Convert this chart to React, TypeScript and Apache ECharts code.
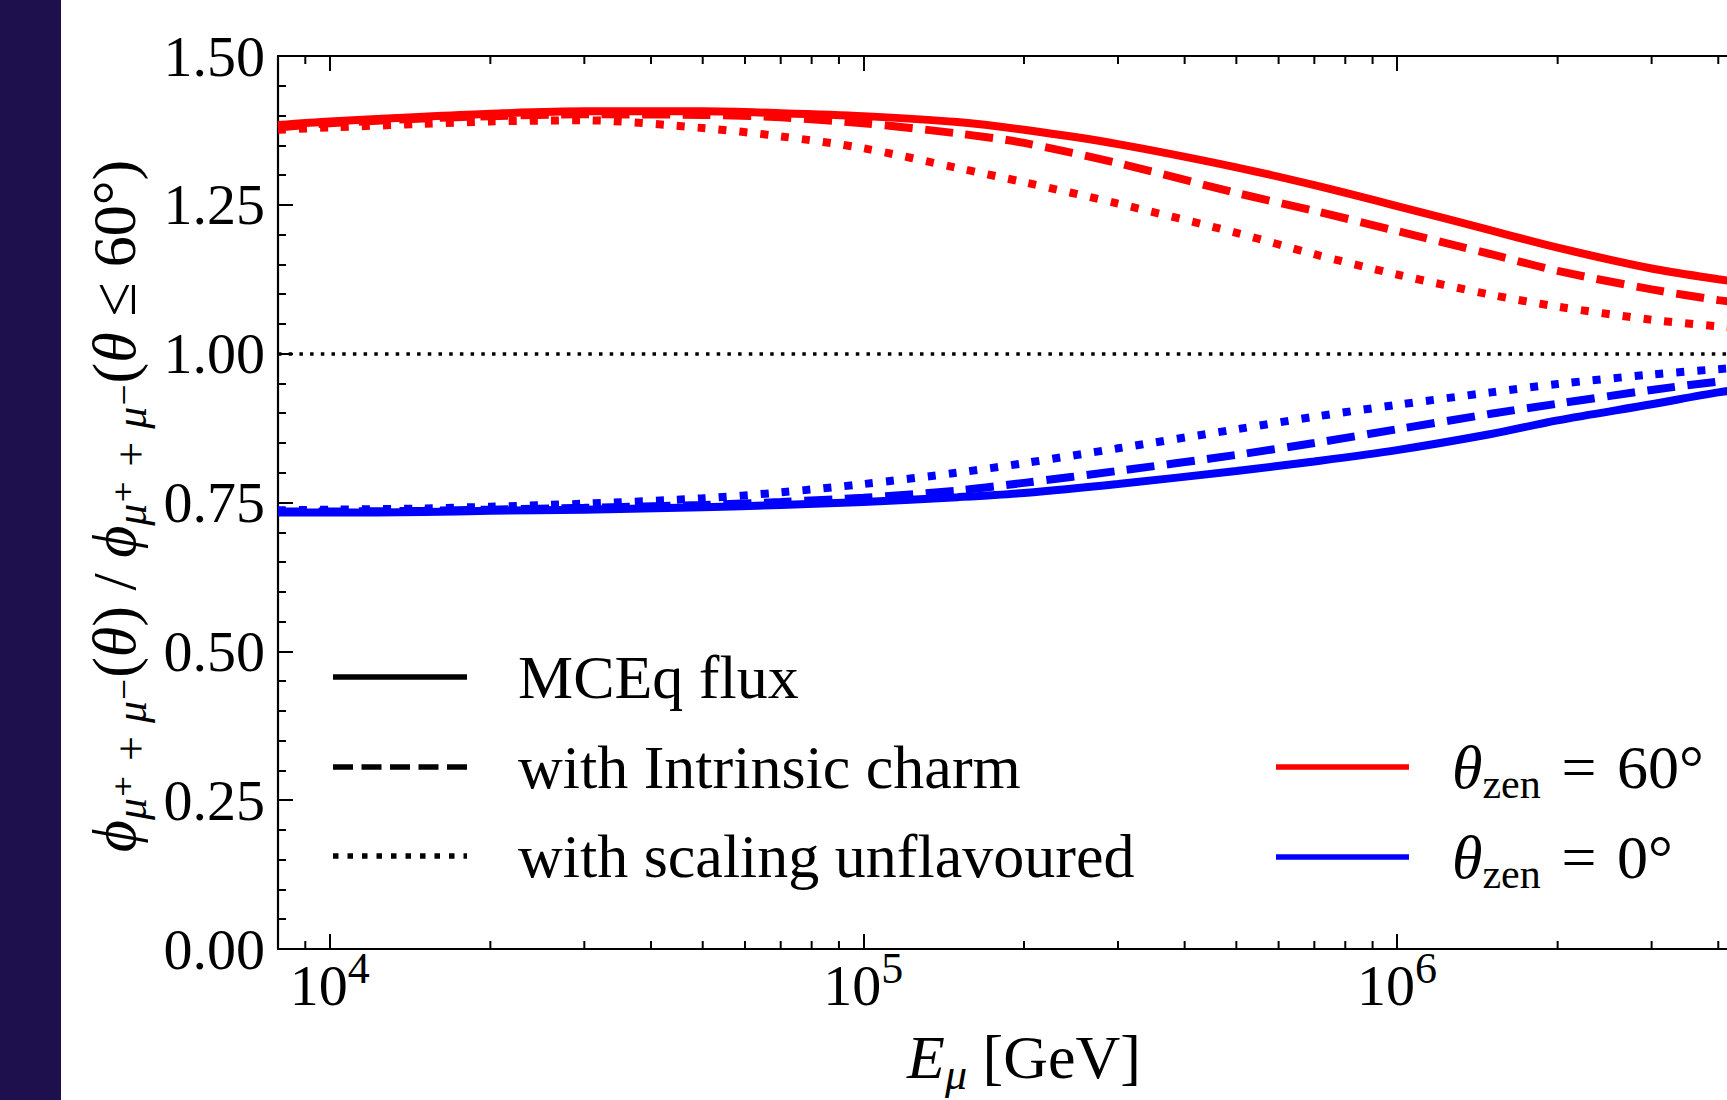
import React, { useEffect, useRef } from "react";
import * as echarts from "echarts";

// ---------- data ----------
const energiesGeV = [8e3, 1e4, 1.5e4, 2e4, 3e4, 5e4, 7e4, 1e5, 1.5e5, 2e5, 3e5, 5e5, 7e5, 1e6, 1.5e6, 2e6, 3e6, 4e6, 5e6];

const red60Mceq = [1.384, 1.390, 1.398, 1.403, 1.407, 1.407, 1.404, 1.399, 1.389, 1.376, 1.352, 1.313, 1.283, 1.248, 1.207, 1.178, 1.143, 1.125, 1.112];
const red60Charm = [1.380, 1.387, 1.395, 1.399, 1.402, 1.401, 1.397, 1.387, 1.370, 1.354, 1.320, 1.270, 1.240, 1.206, 1.167, 1.139, 1.108, 1.090, 1.080];
const red60Scaling = [1.376, 1.380, 1.386, 1.390, 1.392, 1.379, 1.365, 1.345, 1.312, 1.288, 1.252, 1.203, 1.167, 1.133, 1.099, 1.079, 1.057, 1.046, 1.040];

const blue0Mceq = [0.733, 0.733, 0.734, 0.736, 0.738, 0.742, 0.746, 0.751, 0.759, 0.766, 0.781, 0.803, 0.819, 0.838, 0.865, 0.888, 0.915, 0.935, 0.946];
const blue0Charm = [0.735, 0.735, 0.736, 0.738, 0.741, 0.746, 0.751, 0.758, 0.770, 0.783, 0.803, 0.830, 0.850, 0.873, 0.899, 0.916, 0.939, 0.953, 0.961];
const blue0Scaling = [0.737, 0.738, 0.740, 0.743, 0.748, 0.757, 0.767, 0.781, 0.800, 0.816, 0.841, 0.873, 0.894, 0.914, 0.935, 0.949, 0.965, 0.974, 0.980];

const xMinorTicks = [9e3, 2e4, 3e4, 4e4, 5e4, 6e4, 7e4, 8e4, 9e4, 2e5, 3e5, 4e5, 5e5, 6e5, 7e5, 8e5, 9e5, 2e6, 3e6, 4e6];
const yTicks = [0, 0.25, 0.5, 0.75, 1.0, 1.25, 1.5];
const referenceRatio = 1.0;

const lineStyleLabels = ["MCEq flux", "with Intrinsic charm", "with scaling unflavoured"];

// ---------- styling ----------
const FONT = '"Liberation Serif", "DejaVu Serif", serif';
const X_MIN = 8000;
const X_MAX = 5e6;
const Y_MIN = yTicks[0];
const Y_MAX = yTicks[yTicks.length - 1];
const LW = 8;
const DASHED = [28, 12.5];
const DOTTED = [8, 13];
const RED = "#ff0000";
const BLUE = "#0000ff";
const SP = "\u2004";

function makeSeries(name: string, values: number[], color: string, type: any, z: number) {
  return {
    type: "line",
    name,
    data: energiesGeV.map((e, i) => [e, values[i]]),
    showSymbol: false,
    symbol: "none",
    smooth: 0.3,
    clip: true,
    z,
    lineStyle: { color, width: LW, type, cap: "butt" },
    emphasis: { disabled: true },
  };
}

function isPow10(v: number) {
  const l = Math.log10(v);
  return Math.abs(l - Math.round(l)) < 1e-6;
}

export default function App() {
  const ref = useRef<HTMLDivElement>(null);

  useEffect(() => {
    if (!ref.current) return;
    const chart = echarts.init(ref.current, null, { renderer: "svg" });

    const series: any[] = [
      {
        ...makeSeries("red MCEq", red60Mceq, RED, "solid", 3),
        markLine: {
          silent: true,
          symbol: "none",
          label: { show: false },
          lineStyle: { color: "#000", width: 3.5, type: [3.5, 7.2] },
          data: [{ yAxis: referenceRatio }],
          z: 2,
        },
      },
      makeSeries("red charm", red60Charm, RED, DASHED, 4),
      makeSeries("red scaling", red60Scaling, RED, DOTTED, 5),
      makeSeries("blue MCEq", blue0Mceq, BLUE, "solid", 3),
      makeSeries("blue charm", blue0Charm, BLUE, DASHED, 4),
      makeSeries("blue scaling", blue0Scaling, BLUE, DOTTED, 5),
      {
        type: "custom",
        name: "minor ticks",
        silent: true,
        z: 10,
        data: xMinorTicks.map((e) => [e, Y_MIN]),
        encode: { x: 0, y: 1 },
        renderItem: (_params: any, api: any) => {
          const e = api.value(0);
          const b = api.coord([e, Y_MIN]);
          const t = api.coord([e, Y_MAX]);
          const st = { stroke: "#000", lineWidth: 2 };
          return {
            type: "group",
            children: [
              { type: "line", shape: { x1: b[0], y1: b[1], x2: b[0], y2: b[1] - 8 }, style: st },
              { type: "line", shape: { x1: t[0], y1: t[1], x2: t[0], y2: t[1] + 8 }, style: st },
            ],
          };
        },
      },
    ];

    const legendRowsLeft = [677, 767, 856];
    const legendDash: any[] = [null, [20, 8.5], [5.5, 9]];
    const graphic: any[] = [];
    lineStyleLabels.forEach((label, i) => {
      graphic.push({
        type: "line",
        shape: { x1: 333, y1: legendRowsLeft[i], x2: 467, y2: legendRowsLeft[i] },
        style: { stroke: "#000", lineWidth: 5.5, lineDash: legendDash[i] || undefined },
      });
      graphic.push({
        type: "text",
        x: 518,
        y: legendRowsLeft[i],
        style: {
          text: label,
          fontSize: 62,
          fontFamily: FONT,
          fill: "#000",
          align: "left",
          verticalAlign: "middle",
          textAlign: "left",
          textVerticalAlign: "middle",
        },
      });
    });
    const zenRows = [
      { y: 767, color: RED, deg: "60°" },
      { y: 857, color: BLUE, deg: "0°" },
    ];
    zenRows.forEach((r) => {
      graphic.push({
        type: "line",
        shape: { x1: 1276, y1: r.y, x2: 1409, y2: r.y },
        style: { stroke: r.color, lineWidth: 5.5 },
      });
      graphic.push({
        type: "text",
        x: 1452,
        y: r.y,
        style: {
          text: `{i|θ}{s|zen}{m|${SP}=${SP}${r.deg}}`,
          fill: "#000",
          align: "left",
          verticalAlign: "middle",
          textAlign: "left",
          textVerticalAlign: "middle",
          rich: {
            i: { fontSize: 62, fontFamily: FONT, fontStyle: "italic", lineHeight: 64, height: 64 },
            s: { fontSize: 42, fontFamily: FONT, lineHeight: 30, height: 30, verticalAlign: "bottom" },
            m: { fontSize: 62, fontFamily: FONT, lineHeight: 64, height: 64 },
          },
        },
      });
    });

    // y axis title (rotated)
    graphic.push({
      type: "text",
      x: 114,
      y: 506,
      rotation: Math.PI / 2,
      style: {
        text:
          "{i|ϕ}{s|μ⁺ + μ⁻}{m|(}{i|θ}{m|) / }{i|ϕ}{s|μ⁺ + μ⁻}{m|(}{i|θ}{m| ≤ 60°)}",
        fill: "#000",
        align: "center",
        verticalAlign: "middle",
        textAlign: "center",
        textVerticalAlign: "middle",
        rich: {
          i: { fontSize: 62, fontFamily: FONT, fontStyle: "italic", lineHeight: 64, height: 64 },
          m: { fontSize: 62, fontFamily: FONT, lineHeight: 64, height: 64 },
          s: { fontSize: 44, fontFamily: FONT, fontStyle: "italic", lineHeight: 30, height: 30, verticalAlign: "bottom" },
        },
      },
    });

    // x axis title
    graphic.push({
      type: "text",
      x: 1024,
      y: 1057,
      style: {
        text: "{i|E}{s|μ}{m| [GeV]}",
        fill: "#000",
        align: "center",
        verticalAlign: "middle",
        textAlign: "center",
        textVerticalAlign: "middle",
        rich: {
          i: { fontSize: 62, fontFamily: FONT, fontStyle: "italic", lineHeight: 64, height: 64 },
          m: { fontSize: 62, fontFamily: FONT, lineHeight: 64, height: 64 },
          s: { fontSize: 44, fontFamily: FONT, fontStyle: "italic", lineHeight: 30, height: 30, verticalAlign: "bottom" },
        },
      },
    });

    const axisLine = { show: true, lineStyle: { color: "#000", width: 2.2 } };

    const option: any = {
      animation: false,
      backgroundColor: "#ffffff",
      grid: {
        left: 278,
        top: 56,
        right: 30,
        bottom: 151,
        containLabel: false,
        outerBoundsMode: "none",
      },
      xAxis: [
        {
          type: "log",
          logBase: 10,
          min: X_MIN,
          max: X_MAX,
          position: "bottom",
          axisLine,
          axisTick: { show: true, inside: true, length: 15, lineStyle: { color: "#000", width: 2 } },
          minorTick: { show: false },
          splitLine: { show: false },
          axisLabel: {
            show: true,
            margin: 3,
            color: "#000",
            formatter: (v: number) => (isPow10(v) ? `{b|10}{sup|${Math.round(Math.log10(v))}}` : ""),
            rich: {
              b: { fontSize: 58, fontFamily: FONT, color: "#000", lineHeight: 66, height: 66, verticalAlign: "bottom" },
              sup: { fontSize: 44, fontFamily: FONT, color: "#000", lineHeight: 32, height: 32, verticalAlign: "top" },
            },
          },
        },
        {
          type: "log",
          logBase: 10,
          min: X_MIN,
          max: X_MAX,
          position: "top",
          axisLine,
          axisTick: { show: true, inside: true, length: 15, lineStyle: { color: "#000", width: 2 } },
          splitLine: { show: false },
          axisLabel: { show: false },
        },
      ],
      yAxis: [
        {
          type: "value",
          min: Y_MIN,
          max: Y_MAX,
          interval: 0.25,
          position: "left",
          axisLine,
          axisTick: { show: true, inside: true, length: 15, lineStyle: { color: "#000", width: 2 } },
          minorTick: { show: true, splitNumber: 5, length: 8, lineStyle: { color: "#000", width: 2 } },
          splitLine: { show: false },
          minorSplitLine: { show: false },
          axisLabel: {
            show: true,
            margin: 13,
            color: "#000",
            fontSize: 58,
            fontFamily: FONT,
            formatter: (v: number) => (yTicks.some((t) => Math.abs(t - v) < 1e-9) ? v.toFixed(2) : ""),
          },
        },
      ],
      series,
      graphic,
    };

    chart.setOption(option);
    return () => chart.dispose();
  }, []);

  return (
    <div
      style={{
        position: "absolute",
        left: 0,
        top: 0,
        width: 1727,
        height: 1100,
        overflow: "hidden",
        background: "#ffffff",
      }}
    >
      <div ref={ref} style={{ position: "absolute", left: 0, top: 0, width: 1800, height: 1100 }} />
      <div style={{ position: "absolute", left: 0, top: 0, width: 61, height: 1100, background: "#1e0f4d" }} />
    </div>
  );
}
